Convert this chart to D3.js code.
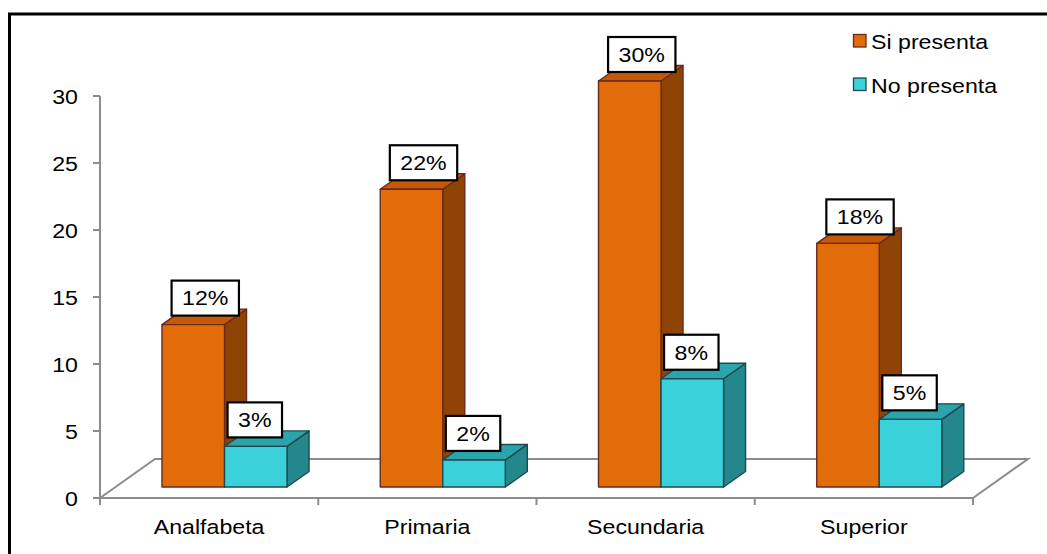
<!DOCTYPE html>
<html>
<head>
<meta charset="utf-8">
<script src="https://cdn.jsdelivr.net/npm/d3@7"></script>
<style>
  body { margin: 0; background: #fff; }
  svg { display: block; }
  text { font-family: "Liberation Sans", Arial, sans-serif; fill: #000; }
</style>
</head>
<body>
<svg id="chart" width="1047" height="554"></svg>
<script>
// ---- data ----
const categories = ["Analfabeta", "Primaria", "Secundaria", "Superior"];
const seriesNames = ["Si presenta", "No presenta"];
const siPresenta = [12, 22, 30, 18];
const noPresenta = [3, 2, 8, 5];
const yTicks = [0, 5, 10, 15, 20, 25, 30];

// ---- look ----
const seriesStyle = [
  { front: "#E36C0A", side: "#8F4406", top: "#C45A08", edge: "#6B2A1E", labelShift: 12 },
  { front: "#3BD1DA", side: "#23878B", top: "#2BA4AB", edge: "#1E4A50", labelShift: -1 }
];
const FONT = 20.5, STRETCH = 1.13;

const svg = d3.select("#chart");

// outer frame
svg.append("rect")
  .attr("x", 9.5).attr("y", 14).attr("width", 1100).attr("height", 600)
  .attr("fill", "none").attr("stroke", "#000").attr("stroke-width", 3);

// scales
const x0 = d3.scaleBand().domain(categories).range([100, 973]);
const bw = x0.bandwidth();
const x1 = d3.scaleBand().domain(seriesNames).range([bw * 0.2135, bw * 0.7865]);
const yAxis = d3.scaleLinear().domain([0, 30]).range([498, 96]);
const yBar = d3.scaleLinear().domain([0, 30]).range([487, 81]);

// floor depth and bar depth (oblique projection)
const floorD = { dx: 55, dy: -39 };
const barShift = 15.4;           // bars stand a little behind the front edge of the floor
const barD = { dx: 22, dy: -15.5 };

// helper for horizontally widened text
function wideText(g, x, y, str, anchor) {
  return g.append("text")
    .attr("transform", `translate(${x},${y}) scale(${STRETCH},1)`)
    .attr("text-anchor", anchor)
    .attr("dy", "0.36em")
    .style("font-size", FONT + "px")
    .text(str);
}

const gray = "#8C8C8C";
const floor = svg.append("g").attr("stroke", gray).attr("stroke-width", 2).attr("fill", "none");
const fx0 = x0.range()[0], fx1 = x0.range()[1], fy = yAxis(0);
floor.append("path").attr("d",
  `M${fx0},${fy} L${fx0 + floorD.dx},${fy + floorD.dy} L${fx1 + floorD.dx},${fy + floorD.dy} L${fx1},${fy}`);
floor.append("line").attr("x1", fx0).attr("y1", fy).attr("x2", fx1).attr("y2", fy);
// category ticks
categories.concat([null]).forEach((c, i) => {
  const tx = fx0 + i * bw;
  floor.append("line").attr("x1", tx).attr("x2", tx).attr("y1", fy).attr("y2", fy + 7);
});

// value axis
const ax = svg.append("g").attr("stroke", gray).attr("stroke-width", 2);
ax.append("line").attr("x1", fx0).attr("x2", fx0).attr("y1", yAxis(30)).attr("y2", fy);
yTicks.forEach(t => {
  ax.append("line").attr("x1", fx0 - 7).attr("x2", fx0).attr("y1", yAxis(t)).attr("y2", yAxis(t));
});
const tickLabels = svg.append("g");
yTicks.forEach(t => wideText(tickLabels, 78, yAxis(t) + 1, String(t), "end"));

// category labels
const catLabels = svg.append("g");
categories.forEach(c => wideText(catLabels, x0(c) + bw / 2, 527, c, "middle"));

// bars
const seriesValues = [siPresenta, noPresenta];
const bars = svg.append("g");
const labelSpots = [];
categories.forEach((c, ci) => {
  seriesNames.forEach((s, si) => {
    const v = seriesValues[si][ci];
    const st = seriesStyle[si];
    const x = x0(c) + x1(s) + barShift;
    const w = x1.bandwidth();
    const yT = yBar(v), yB = yBar(0);
    const g = bars.append("g").attr("stroke", st.edge).attr("stroke-width", 1.4).attr("stroke-linejoin", "round");
    g.append("polygon").attr("fill", st.side)
      .attr("points", [[x + w, yT], [x + w + barD.dx, yT + barD.dy], [x + w + barD.dx, yB + barD.dy], [x + w, yB]].join(" "));
    g.append("polygon").attr("fill", st.top)
      .attr("points", [[x, yT], [x + barD.dx, yT + barD.dy], [x + w + barD.dx, yT + barD.dy], [x + w, yT]].join(" "));
    g.append("rect").attr("fill", st.front)
      .attr("x", x).attr("y", yT).attr("width", w).attr("height", yB - yT);
    labelSpots.push({ v, cx: x + w / 2 + st.labelShift, cy: yT - 26.5 });
  });
});

// value labels in boxes
const labels = svg.append("g");
labelSpots.forEach(d => {
  const g = labels.append("g");
  const box = g.append("rect");
  const t = wideText(g, d.cx, d.cy, d.v + "%", "middle");
  const tw = t.node().getComputedTextLength() * STRETCH;
  const bwid = tw + 21, bh = 35;
  box.attr("x", d.cx - bwid / 2).attr("y", d.cy - bh / 2)
    .attr("width", bwid).attr("height", bh)
    .attr("fill", "#fff").attr("stroke", "#000").attr("stroke-width", 2.2);
});

// legend
const legend = svg.append("g");
seriesNames.forEach((s, i) => {
  const cy = 41 + i * 43.5;
  legend.append("rect").attr("x", 853.5).attr("y", cy - 6.5).attr("width", 12.5).attr("height", 12.5)
    .attr("fill", seriesStyle[i].front).attr("stroke", seriesStyle[i].edge).attr("stroke-width", 1.3);
  wideText(legend, 871, cy + 1, s, "start");
});
</script>
</body>
</html>
